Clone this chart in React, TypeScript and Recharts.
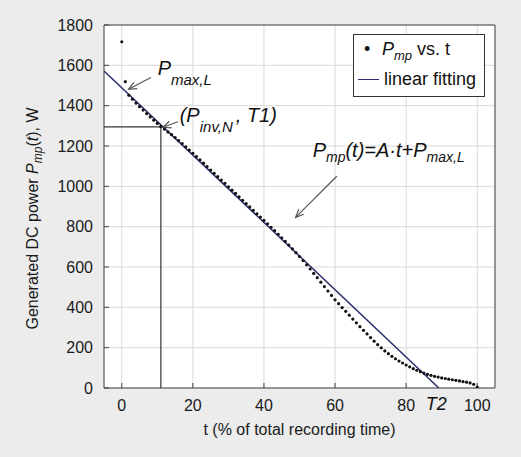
import {
  ComposedChart,
  Scatter,
  Line,
  XAxis,
  YAxis,
  CartesianGrid,
  ReferenceLine,
  ReferenceDot,
  Legend,
  Label,
} from "recharts";

const FONT = "'Liberation Sans', Arial, Helvetica, sans-serif";

// recording time in % of total
const times = [
  0, 1, 2, 3, 4, 5, 6, 7, 8, 9, 10, 11, 12, 13, 14, 15, 16, 17, 18, 19, 20,
  21, 22, 23, 24, 25, 26, 27, 28, 29, 30, 31, 32, 33, 34, 35, 36, 37, 38, 39, 40,
  41, 42, 43, 44, 45, 46, 47, 48, 49, 50, 51, 52, 53, 54, 55, 56, 57, 58, 59, 60,
  61, 62, 63, 64, 65, 66, 67, 68, 69, 70, 71, 72, 73, 74, 75, 76, 77, 78, 79, 80,
  81, 82, 83, 84, 85, 86, 87, 88, 89, 90, 91, 92, 93, 94, 95, 96, 97, 98, 99, 100,
];

// generated DC power P_mp, W
const powerValues = [
  1717, 1519, 1452, 1432, 1413, 1395, 1378, 1361, 1344, 1328, 1312,
  1297, 1284, 1270, 1256, 1242, 1227, 1212, 1196, 1180, 1164,
  1148, 1131, 1115, 1098, 1081, 1065, 1048, 1031, 1015, 998,
  981, 965, 948, 931, 915, 898, 881, 864, 848, 831,
  814, 797, 780, 762, 745, 727, 709, 690, 671, 652,
  632, 611, 590, 568, 547, 525, 503, 481, 459, 437,
  418, 399, 380, 361, 342, 323, 304, 286, 268, 250,
  232, 215, 199, 184, 170, 157, 145, 134, 124, 114,
  105, 96, 88, 81, 74, 68, 63, 58, 54, 50,
  47, 44, 41, 38, 35, 32, 29, 25, 18, 5,
];

// linear fitting end points
const fitTimes = [-5, 89.2];
const fitValues = [1572, 0];

const xTicks = [0, 20, 40, 60, 80, 100];
const yTicks = [0, 200, 400, 600, 800, 1000, 1200, 1400, 1600, 1800];

const T1 = 11;
const P_INV_N = 1295;

const points = times.map((t, i) => ({ t, p: powerValues[i] }));
const fit = fitTimes.map((t, i) => ({ t, p: fitValues[i] }));

const Dot = (props: any) => <circle cx={props.cx} cy={props.cy} r={1.6} fill="#111" />;

const Arrow = (props: any) => {
  const { x1, y1, x2, y2 } = props;
  const a = Math.atan2(y2 - y1, x2 - x1);
  const len = 8;
  const w = 3.5;
  const bx = x2 - len * Math.cos(a);
  const by = y2 - len * Math.sin(a);
  const p1 = `${bx + w * Math.sin(a)},${by - w * Math.cos(a)}`;
  const p2 = `${bx - w * Math.sin(a)},${by + w * Math.cos(a)}`;
  return (
    <g stroke="#555" strokeWidth={1.2} fill="none">
      <line x1={x1} y1={y1} x2={x2} y2={y2} />
      <polyline points={`${p1} ${x2},${y2} ${p2}`} />
    </g>
  );
};

const PmaxLabel = (props: any) => (
  <text x={props.cx} y={props.cy} fontFamily={FONT} fontStyle="italic" fill="#111" fontSize={20}>
    P
    <tspan fontSize={15} dy={10}>max,L</tspan>
  </text>
);

const PinvLabel = (props: any) => (
  <text x={props.cx} y={props.cy} fontFamily={FONT} fontStyle="italic" fill="#111" fontSize={20}>
    (P
    <tspan fontSize={15} dy={10}>inv,N</tspan>
    <tspan dy={-10} dx={3}>, T1)</tspan>
  </text>
);

const FormulaLabel = (props: any) => (
  <text x={props.cx} y={props.cy} fontFamily={FONT} fontStyle="italic" fill="#111" fontSize={20}>
    P
    <tspan fontSize={14} dy={5}>mp</tspan>
    <tspan dy={-5}>(t)=A·t+P</tspan>
    <tspan fontSize={14} dy={5}>max,L</tspan>
  </text>
);

const T2Label = (props: any) => (
  <text x={props.cx} y={props.cy} fontFamily={FONT} fontStyle="italic" fill="#111" fontSize={18} textAnchor="middle">
    T2
  </text>
);

const YTitle = (props: any) => {
  const vb = props.viewBox || { x: 44, y: 25, width: 60, height: 363 };
  const cx = vb.x - 6;
  const cy = vb.y + vb.height / 2 + 12;
  return (
    <text
      x={cx}
      y={cy}
      transform={`rotate(-90, ${cx}, ${cy})`}
      textAnchor="middle"
      fontFamily={FONT}
      fontSize={16}
      fill="#1a1a1a"
    >
      Generated DC power <tspan fontStyle="italic">P</tspan>
      <tspan fontSize={12} fontStyle="italic" dy={4}>mp</tspan>
      <tspan dy={-4}>(</tspan>
      <tspan fontStyle="italic">t</tspan>
      <tspan>), W</tspan>
    </text>
  );
};

const XTitle = (props: any) => {
  const vb = props.viewBox || { x: 104, y: 388, width: 391, height: 30 };
  return (
    <text
      x={vb.x + vb.width / 2}
      y={vb.y + 47}
      textAnchor="middle"
      fontFamily={FONT}
      fontSize={16}
      fill="#1a1a1a"
    >
      t (% of total recording time)
    </text>
  );
};

const LegendBox = () => (
  <div
    style={{
      width: 132,
      height: 63,
      boxSizing: "border-box",
      border: "1px solid #333",
      background: "#fff",
      fontFamily: FONT,
      color: "#111",
      position: "relative",
    }}
  >
    <div style={{ position: "absolute", left: 10, top: 4, fontSize: 18, whiteSpace: "nowrap" }}>
      <span style={{ display: "inline-block", width: 18 }}>•</span>
      <i>P</i>
      <sub style={{ fontSize: 13, fontStyle: "italic" }}>mp</sub> vs. t
    </div>
    <div style={{ position: "absolute", left: 4, top: 34, fontSize: 18, whiteSpace: "nowrap", display: "flex", alignItems: "center" }}>
      <span style={{ display: "inline-block", width: 21, height: 0, borderTop: "1.5px solid #2c2f6e", marginRight: 5 }} />
      linear fitting
    </div>
  </div>
);

export default function App() {
  return (
    <div style={{ position: "fixed", left: 0, top: 0, width: 521, height: 457, background: "#ececec" }}>
      <ComposedChart
        width={521}
        height={457}
        margin={{ top: 24, right: 25, bottom: 39, left: 44 }}
        style={{ fontFamily: FONT }}
      >
        <CartesianGrid stroke="#d9d9d9" fill="#fff" />
        <XAxis
          dataKey="t"
          type="number"
          domain={[-5, 105]}
          ticks={xTicks}
          allowDataOverflow
          height={30}
          stroke="#444"
          tickSize={-5}
          tickMargin={17}
          tick={{ fill: "#1a1a1a", fontSize: 16, fontFamily: FONT }}
        >
          <Label content={XTitle} />
        </XAxis>
        <XAxis
          xAxisId="top"
          orientation="top"
          type="number"
          domain={[-5, 105]}
          ticks={xTicks}
          allowDataOverflow
          height={1}
          stroke="#444"
          tickSize={-5}
          tick={false}
        />
        <YAxis
          dataKey="p"
          type="number"
          domain={[0, 1800]}
          ticks={yTicks}
          allowDataOverflow
          width={60}
          stroke="#444"
          tickSize={-5}
          tickMargin={16}
          tick={{ fill: "#1a1a1a", fontSize: 16, fontFamily: FONT }}
        >
          <Label content={YTitle} />
        </YAxis>
        <YAxis
          yAxisId="right"
          orientation="right"
          type="number"
          domain={[0, 1800]}
          ticks={yTicks}
          allowDataOverflow
          width={1}
          stroke="#444"
          tickSize={-5}
          tick={false}
        />
        <ReferenceLine segment={[{ x: -5, y: P_INV_N }, { x: T1, y: P_INV_N }]} stroke="#333" strokeWidth={1.2} />
        <ReferenceLine segment={[{ x: T1, y: 0 }, { x: T1, y: P_INV_N }]} stroke="#333" strokeWidth={1.2} />
        <Scatter data={points} dataKey="p" shape={Dot} isAnimationActive={false} legendType="none" />
        <Line
          data={fit}
          dataKey="p"
          type="linear"
          stroke="#2c2f6e"
          strokeWidth={1.5}
          dot={false}
          activeDot={false}
          isAnimationActive={false}
          legendType="none"
        />
        <ReferenceLine segment={[{ x: 8.2, y: 1540 }, { x: 1.9, y: 1481 }]} shape={Arrow} />
        <ReferenceLine segment={[{ x: 15.8, y: 1320 }, { x: 11.6, y: 1293 }]} shape={Arrow} />
        <ReferenceLine segment={[{ x: 60.5, y: 1050 }, { x: 48.9, y: 846 }]} shape={Arrow} />
        <ReferenceDot x={10.1} y={1552} r={0} shape={PmaxLabel} />
        <ReferenceDot x={16.3} y={1319} r={0} shape={PinvLabel} />
        <ReferenceDot x={53.7} y={1145} r={0} shape={FormulaLabel} />
        <ReferenceDot x={88.5} y={-109} r={0} shape={T2Label} ifOverflow="visible" />
        <Legend
          content={LegendBox}
          align="center"
          verticalAlign="middle"
          wrapperStyle={{ position: "absolute", left: 353, top: 34, width: 132 }}
        />
      </ComposedChart>
    </div>
  );
}
